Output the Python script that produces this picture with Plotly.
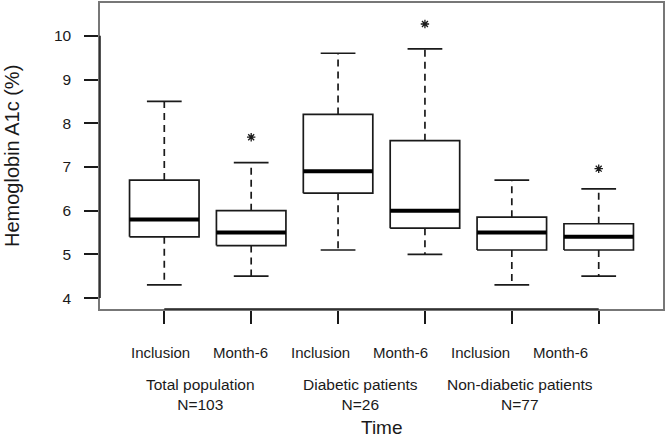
import plotly.graph_objects as go

# Hemoglobin A1c (%) per group and time point
positions = [1, 2, 3, 4, 5, 6]
time_labels = ['Inclusion', 'Month-6', 'Inclusion', 'Month-6', 'Inclusion', 'Month-6']
lower = [4.3, 4.5, 5.1, 5.0, 4.3, 4.5]
q1 = [5.4, 5.2, 6.4, 5.6, 5.1, 5.1]
median = [5.8, 5.5, 6.9, 6.0, 5.5, 5.4]
q3 = [6.7, 6.0, 8.2, 7.6, 5.85, 5.7]
upper = [8.5, 7.1, 9.6, 9.7, 6.7, 6.5]

# significance markers (box index, y)
star_pos = [2, 4, 6]
star_y = [7.68, 10.27, 6.96]

groups = ['Total population', 'Diabetic patients', 'Non-diabetic patients']
group_n = ['N=103', 'N=26', 'N=77']

half_w = 0.4    # half box width
cap_w = 0.2     # half whisker cap width
font = 'Liberation Sans, Arial, sans-serif'
ink = '#1a1a1a'

# Build the line paths from the box statistics
bx, by, mx, my, wx, wy, cx, cy = [], [], [], [], [], [], [], []
for p, lo, a, m, b, hi in zip(positions, lower, q1, median, q3, upper):
    bx += [p - half_w, p + half_w, p + half_w, p - half_w, p - half_w, None]
    by += [a, a, b, b, a, None]
    mx += [p - half_w, p + half_w, None]
    my += [m, m, None]
    wx += [p, p, None, p, p, None]
    wy += [b, hi, None, a, lo, None]
    cx += [p - cap_w, p + cap_w, None, p - cap_w, p + cap_w, None]
    cy += [hi, hi, None, lo, lo, None]

fig = go.Figure()
fig.add_trace(go.Scatter(x=wx, y=wy, mode='lines',
                         line=dict(color=ink, width=1.7, dash='7px,5px')))
fig.add_trace(go.Scatter(x=cx, y=cy, mode='lines',
                         line=dict(color=ink, width=1.7)))
fig.add_trace(go.Scatter(x=bx, y=by, mode='lines', fill='toself',
                         fillcolor='white', line=dict(color=ink, width=1.7)))
fig.add_trace(go.Scatter(x=mx, y=my, mode='lines',
                         line=dict(color='black', width=4)))
fig.add_trace(go.Scatter(x=star_pos, y=star_y, mode='markers',
                         marker=dict(symbol='asterisk-open', size=7, color=ink,
                                     line=dict(color=ink, width=1.3))))

# Labels under the axis
annotations = []
x0, step = 0.1066, 0.1421
for i, lab in enumerate(time_labels):
    annotations.append(dict(x=x0 + step * i, y=0, xref='paper', yref='paper',
                            yshift=-43, text=lab, showarrow=False,
                            font=dict(size=15, color=ink, family=font),
                            xanchor='center', yanchor='middle'))
for i, (g, n) in enumerate(zip(groups, group_n)):
    annotations.append(dict(x=x0 + step * (2 * i + 0.5), y=0, xref='paper', yref='paper',
                            yshift=-85, text=f'{g}<br>{n}', showarrow=False,
                            font=dict(size=15.5, color=ink, family=font),
                            xanchor='center', yanchor='middle'))
annotations.append(dict(x=0.5, y=0, xref='paper', yref='paper', yshift=-118,
                        text='Time', showarrow=False,
                        font=dict(size=19, color=ink, family=font),
                        xanchor='center', yanchor='middle'))
annotations.append(dict(x=0, y=0.5, xref='paper', yref='paper', xshift=-88,
                        text='Hemoglobin A1c (%)', textangle=-90, showarrow=False,
                        font=dict(size=20, color=ink, family=font),
                        xanchor='center', yanchor='middle'))

# darker axis segments between first and last tick (R style)
shapes = [
    dict(type='line', xref='x', yref='paper', x0=min(positions), x1=max(positions),
         y0=0, y1=0, line=dict(color=ink, width=1.5)),
    dict(type='line', xref='paper', yref='y', x0=0, x1=0, y0=4, y1=10,
         line=dict(color=ink, width=1.5)),
]

fig.update_layout(
    width=666, height=437,
    margin=dict(l=100, r=3, t=1, b=128),
    plot_bgcolor='white', paper_bgcolor='white',
    showlegend=False,
    annotations=annotations,
    shapes=shapes,
    xaxis=dict(range=[0.26, 6.74], tickvals=positions, showticklabels=False,
               ticks='outside', ticklen=13, tickwidth=1.5, tickcolor=ink,
               showline=True, mirror=True, linecolor='#777', linewidth=1.5,
               showgrid=False, zeroline=False),
    yaxis=dict(range=[3.75, 10.75], tickvals=[4, 5, 6, 7, 8, 9, 10],
               ticks='outside', ticklen=14, tickwidth=1.5, tickcolor=ink,
               ticklabelstandoff=10,
               tickfont=dict(size=15.5, color=ink, family=font),
               showline=True, mirror=True, linecolor='#777', linewidth=1.5,
               showgrid=False, zeroline=False),
)

# drop the page's default body margin so the figure fills the window
fig.write_html('out.html', config={'displayModeBar': False},
               post_script="document.body.style.margin='0';")
